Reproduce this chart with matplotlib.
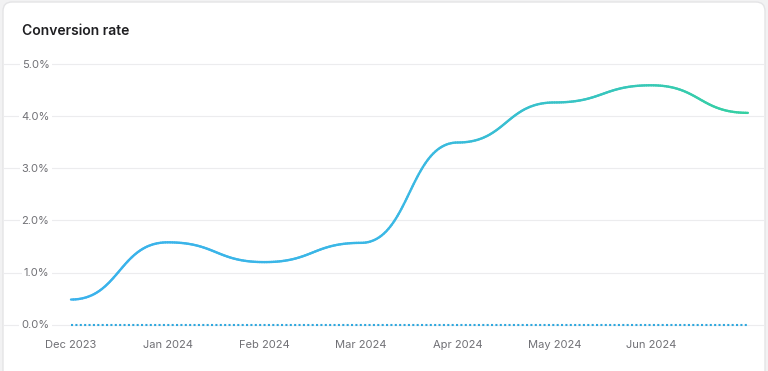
import numpy as np
import matplotlib
matplotlib.use("Agg")
import matplotlib.pyplot as plt
from matplotlib.collections import LineCollection
from matplotlib.patches import FancyBboxPatch
from matplotlib.colors import LinearSegmentedColormap, Normalize

plt.rcParams['font.family'] = ['Inter', 'DejaVu Sans']

# ---- data ----
months = ['Dec 2023', 'Jan 2024', 'Feb 2024', 'Mar 2024', 'Apr 2024',
          'May 2024', 'Jun 2024', 'Jul 2024']
conversion = [0.48, 1.58, 1.20, 1.57, 3.50, 4.27, 4.60, 4.07]
comparison = [0, 0, 0, 0, 0, 0, 0, 0]
xtick_labels = ['Dec 2023', 'Jan 2024', 'Feb 2024', 'Mar 2024', 'Apr 2024',
                'May 2024', 'Jun 2024']
ytick_values = [0, 1, 2, 3, 4, 5]
ytick_labels = ['0.0%', '1.0%', '2.0%', '3.0%', '4.0%', '5.0%']
title = 'Conversion rate'

W, H, DPI = 768, 371, 100
fig = plt.figure(figsize=(W / DPI, H / DPI), dpi=DPI)
fig.patch.set_facecolor('#f2f2f3')

# card
card = FancyBboxPatch((3, -30), 762, H - 2 + 30,
                      boxstyle='round,pad=0,rounding_size=9',
                      transform=None, facecolor='white',
                      edgecolor='#e4e4e6', linewidth=1, zorder=-1)
fig.add_artist(card)

# axes placement (pixels)
ax_left, ax_right = 3, 765
ax_top, ax_bot = 55, 335
x0_px, x_step = 71, 96.7
y0_px, y_step = 324.5, 52.0

ax = fig.add_axes([ax_left / W, (H - ax_bot) / H,
                   (ax_right - ax_left) / W, (ax_bot - ax_top) / H])
ax.set_facecolor('none')
ax.set_xlim(-(x0_px - ax_left) / x_step, (ax_right - x0_px) / x_step)
ax.set_ylim(-(ax_bot - y0_px) / y_step, (y0_px - ax_top) / y_step)
for s in ax.spines.values():
    s.set_visible(False)

# gridlines
ax.set_yticks(ytick_values)
ax.set_yticklabels(ytick_labels)
ax.yaxis.grid(True, color='#ececee', linewidth=0.8)
ax.set_axisbelow(True)
ax.tick_params(axis='y', length=0, pad=-(49.5 - ax_left) * 0.72,
               labelsize=8, labelcolor='#707075')
for lab in ax.get_yticklabels():
    lab.set_bbox(dict(facecolor='white', edgecolor='none', pad=1.5))

xs = np.arange(len(months))
ax.set_xticks(xs[:len(xtick_labels)])
ax.set_xticklabels(xtick_labels)
ax.tick_params(axis='x', length=0, pad=3.6, labelsize=8, labelcolor='#707075')

# comparison dotted line
ax.plot(xs, comparison, color='#2fa8de', linewidth=1.5,
        linestyle=(0, (1, 1.1)), zorder=2)

# bump curve (horizontal tangents at each point)
pts_x, pts_y = [], []
t = np.linspace(0, 1, 60)
for i in range(len(xs) - 1):
    xa, xb = xs[i], xs[i + 1]
    ya, yb = conversion[i], conversion[i + 1]
    xm = (xa + xb) / 2
    bx = (1 - t) ** 3 * xa + 3 * (1 - t) ** 2 * t * xm + 3 * (1 - t) * t ** 2 * xm + t ** 3 * xb
    by = (1 - t) ** 3 * ya + 3 * (1 - t) ** 2 * t * ya + 3 * (1 - t) * t ** 2 * yb + t ** 3 * yb
    if i > 0:
        bx, by = bx[1:], by[1:]
    pts_x.extend(bx)
    pts_y.extend(by)
pts = np.column_stack([pts_x, pts_y]).reshape(-1, 1, 2)
segs = np.concatenate([pts[:-1], pts[1:]], axis=1)
cmap = LinearSegmentedColormap.from_list('g', ['#3ab2ec', '#3ab8e4', '#35d0a2'])
lc = LineCollection(segs, cmap=cmap, norm=Normalize(xs[0], xs[-1]),
                    linewidth=1.7, capstyle='round', joinstyle='round', zorder=3)
lc.set_array(np.array(pts_x[:-1]))
ax.add_collection(lc)

fig.text(22 / W, (H - 35) / H, title, fontsize=10, fontweight='semibold',
         color='#1f1f22', ha='left', va='baseline')

fig.savefig('out.png', dpi=DPI, facecolor=fig.get_facecolor())
